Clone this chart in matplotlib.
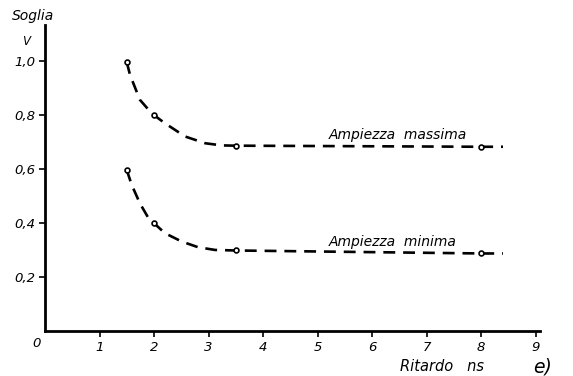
import matplotlib.pyplot as plt

# valori (curve tratteggiate)
x_massima = [1.5, 1.56, 1.74, 1.9, 2.0, 2.2, 2.57, 2.94, 3.24, 3.5, 8.0, 8.4]
y_massima = [0.995, 0.948, 0.856, 0.819, 0.799, 0.769, 0.72, 0.695, 0.687, 0.686, 0.682, 0.682]
x_minima = [1.5, 1.59, 1.74, 1.9, 2.0, 2.2, 2.51, 2.81, 3.12, 3.5, 8.0, 8.4]
y_minima = [0.596, 0.541, 0.473, 0.417, 0.399, 0.362, 0.331, 0.31, 0.3, 0.298, 0.287, 0.287]

# punti misurati
x_punti = [1.5, 2.0, 3.5, 8.0]
p_massima = [0.995, 0.799, 0.686, 0.682]
p_minima = [0.596, 0.399, 0.298, 0.287]

x_ticks = [1, 2, 3, 4, 5, 6, 7, 8, 9]
y_ticks = [0.2, 0.4, 0.6, 0.8, 1.0]
y_labels = ["0,2", "0,4", "0,6", "0,8", "1,0"]

plt.rcParams['font.family'] = ['DejaVu Sans']

fig = plt.figure(figsize=(5.73, 3.76), dpi=100)
ax = fig.add_axes([0.0785, 0.1197, 0.864, 0.814])

for xc, yc, yp in [(x_massima, y_massima, p_massima), (x_minima, y_minima, p_minima)]:
    ax.plot(xc, yc, color="black", lw=1.9, dashes=(4.5, 3))
    ax.plot(x_punti, yp, "o", ms=3.5, mfc="white", mec="black", mew=1.2, zorder=3)

ax.set_xlim(0, 9.08)
ax.set_ylim(0, 1.133)
ax.spines["top"].set_visible(False)
ax.spines["right"].set_visible(False)
ax.spines["left"].set_linewidth(2)
ax.spines["bottom"].set_linewidth(2)
ax.set_xticks(x_ticks)
ax.set_xticklabels([str(t) for t in x_ticks], style="italic", fontsize=9.5)
ax.set_yticks(y_ticks)
ax.set_yticklabels(y_labels, style="italic", fontsize=9.5)
ax.tick_params(direction="out", length=4, width=1.2, pad=3)

ax.text(-0.15, -0.045, "0", style="italic", fontsize=9.5, ha="center", va="center")
fig.text(0.02, 0.957, "Soglia", style="italic", fontsize=10, ha="left", va="center")
fig.text(0.046, 0.89, "V", style="italic", fontsize=8.5, ha="center", va="center")

ax.text(5.2, 0.726, "Ampiezza  massima", style="italic", fontsize=10, ha="left", va="center")
ax.text(5.2, 0.33, "Ampiezza  minima", style="italic", fontsize=10, ha="left", va="center")

fig.text(0.698, 0.024, "Ritardo   ns", style="italic", fontsize=10.5, ha="left", va="center")
fig.text(0.93, 0.024, "e)", style="italic", fontsize=13.5, ha="left", va="center")

fig.savefig("out.png", dpi=100)
